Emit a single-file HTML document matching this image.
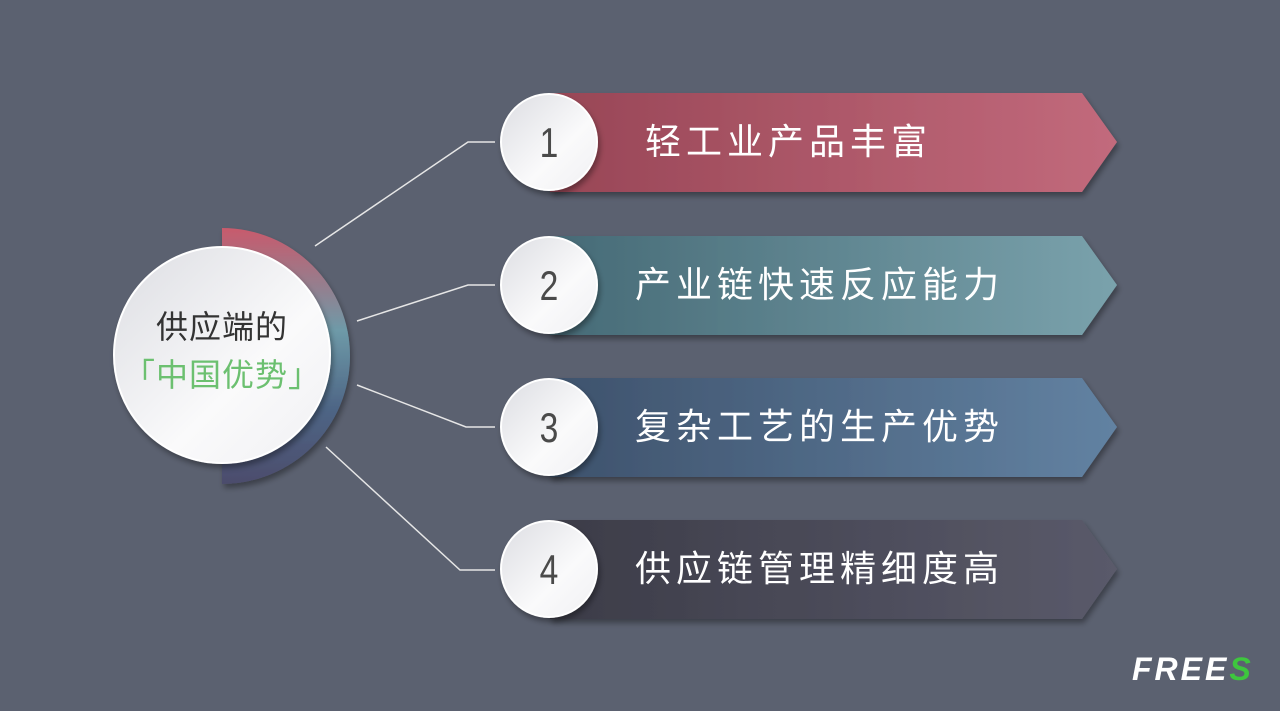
<!DOCTYPE html>
<html><head><meta charset="utf-8"><style>
body{margin:0;width:1280px;height:711px;background:#5b6170;overflow:hidden;position:relative;font-family:"Liberation Sans","Noto Sans CJK SC",sans-serif}
svg{position:absolute;left:0;top:0}
.t{position:absolute;color:#fff;font-size:36px;letter-spacing:5px;line-height:40px}
.n{position:absolute;font-size:42px;color:#4a4a4a;width:98px;text-align:center;line-height:44px;transform:scaleX(0.8)}
</style></head><body>
<svg width="1280" height="711">
<defs>
<linearGradient id="g1" x1="0" x2="1"><stop offset="0" stop-color="#984656"/><stop offset="1" stop-color="#c26a7c"/></linearGradient>
<linearGradient id="g2" x1="0" x2="1"><stop offset="0" stop-color="#466a76"/><stop offset="1" stop-color="#7aa2ac"/></linearGradient>
<linearGradient id="g3" x1="0" x2="1"><stop offset="0" stop-color="#3e526c"/><stop offset="1" stop-color="#6282a2"/></linearGradient>
<linearGradient id="g4" x1="0" x2="1"><stop offset="0" stop-color="#3c3c48"/><stop offset="1" stop-color="#5a5a6a"/></linearGradient>
<linearGradient id="arc" x1="0" y1="0" x2="0" y2="1"><stop offset="0" stop-color="#c85a6c"/><stop offset="0.4" stop-color="#6e9aa8"/><stop offset="0.7" stop-color="#4e6686"/><stop offset="1" stop-color="#4c4c6c"/></linearGradient>
<linearGradient id="wc" x1="0" y1="0" x2="1" y2="1"><stop offset="0" stop-color="#dcdde2"/><stop offset="0.6" stop-color="#fafafb"/><stop offset="1" stop-color="#f0f0f3"/></linearGradient>
<filter id="sh" x="-20%" y="-20%" width="140%" height="150%"><feDropShadow dx="2" dy="4" stdDeviation="3" flood-color="#000" flood-opacity="0.35"/></filter>
</defs>
<g stroke="#e6e6e6" stroke-width="1.5" fill="none">
<polyline points="315,246 468,142 495,142"/>
<polyline points="357,321 468,285 495,285"/>
<polyline points="357,385 466,427 495,427"/>
<polyline points="326,447 460,570 495,570"/>
</g>
<path d="M222,228 A128,128 0 0 1 222,484 Z" fill="url(#arc)" filter="url(#sh)"/>
<circle cx="222" cy="355" r="108" fill="url(#wc)" stroke="#fff" stroke-width="2" filter="url(#sh)"/>
<g filter="url(#sh)">
<polygon points="550,93 1082,93 1117,142 1082,192 550,192" fill="url(#g1)"/>
<polygon points="550,236 1082,236 1117,285 1082,335 550,335" fill="url(#g2)"/>
<polygon points="550,378 1082,378 1117,427 1082,477 550,477" fill="url(#g3)"/>
<polygon points="550,520 1082,520 1117,569 1082,619 550,619" fill="url(#g4)"/>
</g>
<g fill="url(#wc)" stroke="#fff" stroke-width="2" filter="url(#sh)">
<circle cx="549" cy="142" r="48"/><circle cx="549" cy="285" r="48"/><circle cx="549" cy="427" r="48"/><circle cx="549" cy="569" r="48"/>
</g>
</svg>
<div class="n" style="left:500px;top:121px">1</div>
<div class="n" style="left:500px;top:264px">2</div>
<div class="n" style="left:500px;top:406px">3</div>
<div class="n" style="left:500px;top:548px">4</div>
<div class="t" style="left:645px;top:122px">轻工业产品丰富</div>
<div class="t" style="left:635px;top:265px">产业链快速反应能力</div>
<div class="t" style="left:635px;top:407px">复杂工艺的生产优势</div>
<div class="t" style="left:635px;top:549px">供应链管理精细度高</div>
<div style="position:absolute;left:100px;width:244px;top:307px;text-align:center;font-size:32px;color:#333;line-height:40px;letter-spacing:1px">供应端的</div>
<div style="position:absolute;left:100px;width:244px;top:355px;text-align:center;font-size:32px;color:#6cc070;line-height:40px;letter-spacing:1px">「中国优势」</div>
<div style="position:absolute;left:1132px;top:651px;font-size:32px;font-weight:bold;font-style:italic;color:#fff;letter-spacing:3px;line-height:36px">FREE<span style="color:#3ec63e">S</span></div>
</body></html>
